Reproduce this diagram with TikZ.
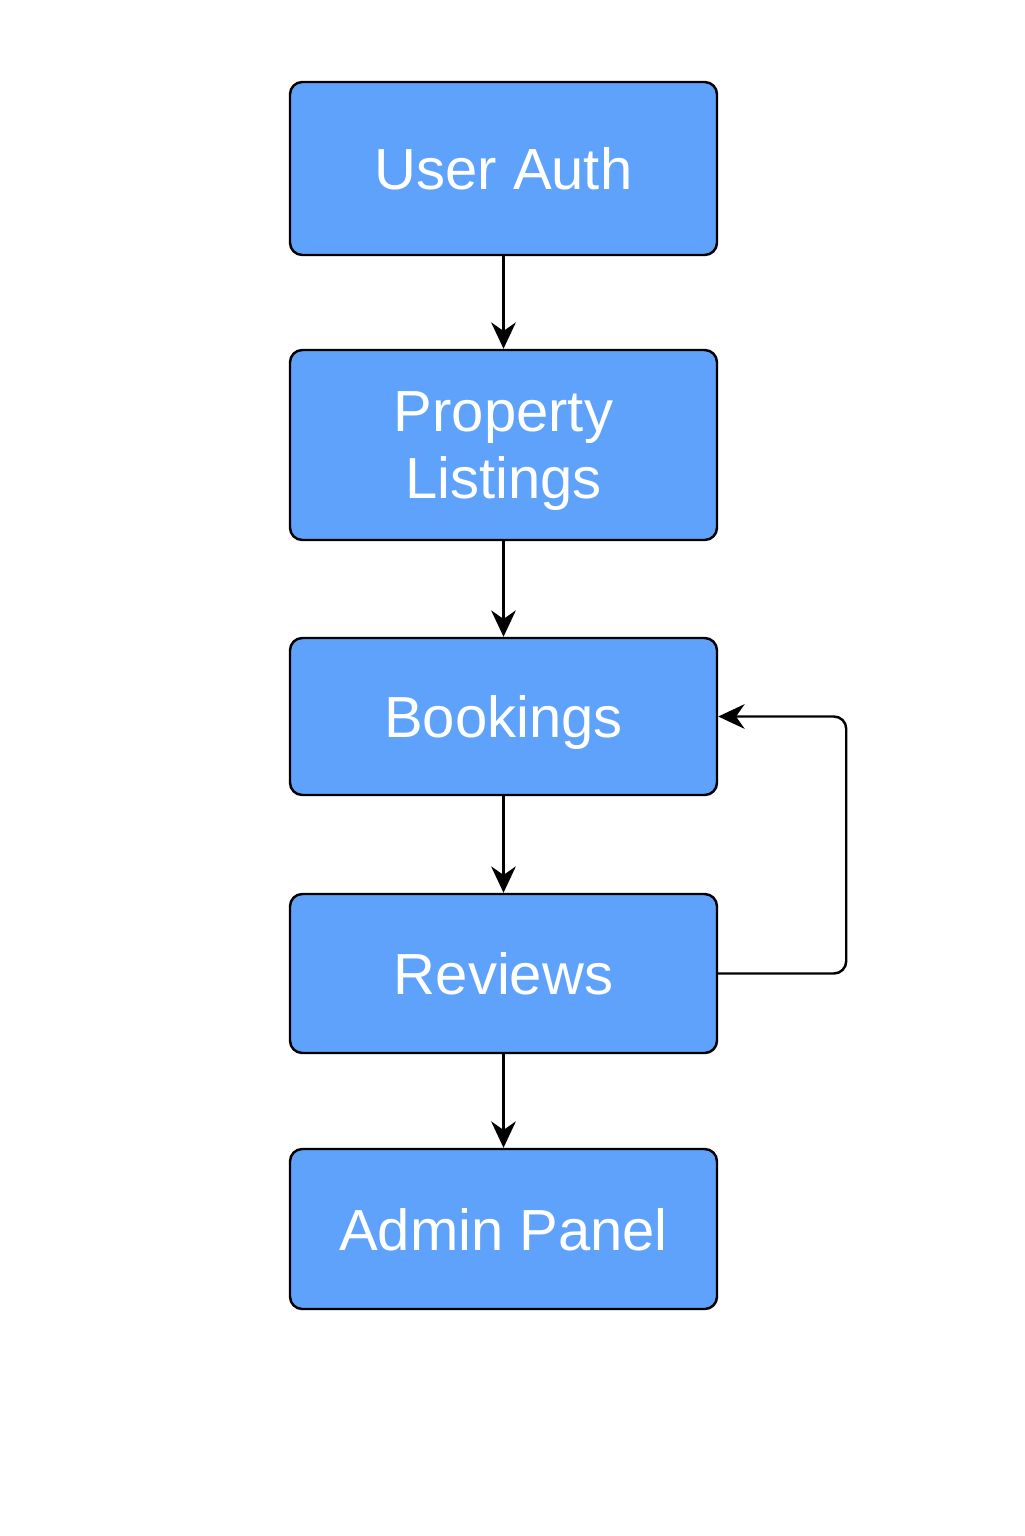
\documentclass[tikz,border=0pt]{standalone}
\usepackage{fontspec}
\setmainfont{Liberation Sans}
\usetikzlibrary{arrows.meta}
\definecolor{boxblue}{RGB}{94,162,252}

\begin{document}
\begin{tikzpicture}[>={Stealth[length=7.5pt,width=7pt]},line width=0.7pt,
                    x=1cm,y=1cm]
  \tikzstyle{module} = [
    rectangle, rounded corners=3.5pt, draw=black, fill=boxblue,
    text=white, minimum width=4.27cm, align=center, text depth=0pt,
    font=\fontsize{16.5}{19}\selectfont]

  \useasboundingbox (0,0) rectangle (10.24,-15.36);

  \node[module, minimum height=1.73cm] (1) at (5.035,-1.685) {User Auth};
  \node[module, minimum height=1.90cm] (2) at (5.035,-4.45)  {Property\\Listings};
  \node[module, minimum height=1.57cm] (3) at (5.035,-7.165) {Bookings};
  \node[module, minimum height=1.59cm] (4) at (5.035,-9.735) {Reviews};
  \node[module, minimum height=1.60cm] (5) at (5.035,-12.29) {Admin Panel};

  \draw[->]
        (1) edge  node {} (2)
        (2) edge  node {} (3)
        (3) edge  node {} (4)
        (4) edge  node {} (5);

  % back from reviews to bookings
  \draw[->, rounded corners=3.5pt]
        (4.east) -- ++(1.28,0) |- (3.east);

\end{tikzpicture}
\end{document}
